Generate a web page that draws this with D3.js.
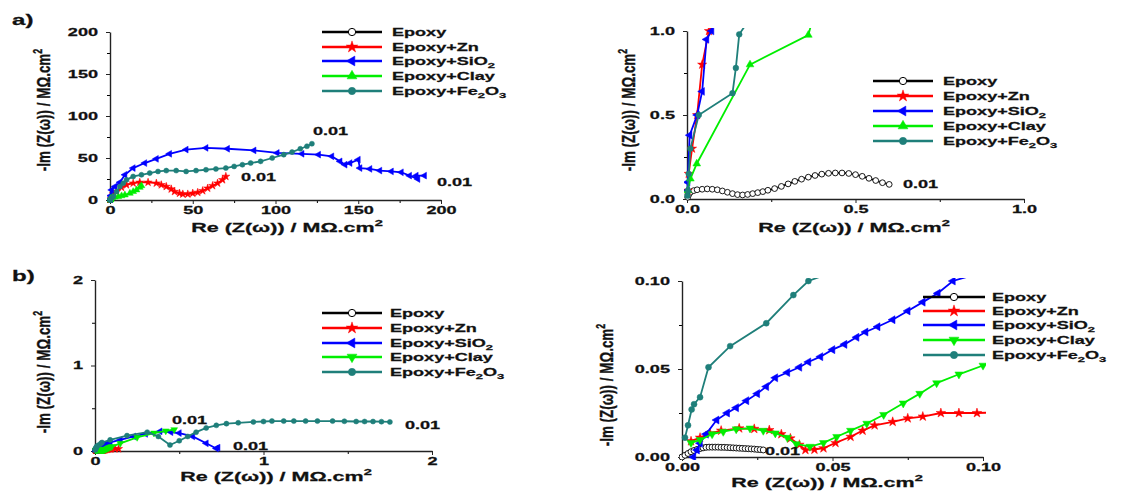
<!DOCTYPE html>
<html>
<head>
<meta charset="utf-8">
<script src="https://cdn.jsdelivr.net/npm/d3@7"></script>
<style>
body { margin: 0; background: #fff; }
text { font-family: "Liberation Sans", Arial, sans-serif; font-weight: bold; fill: #111; stroke: #111; stroke-width: 0.25; }
</style>
</head>
<body>
<svg id="fig" width="1135" height="492"></svg>
<script>
// ---- data: [Re, -Im] in MOhm.cm2 ----
const seriesNames = ["Epoxy", "Epoxy+Zn", "Epoxy+SiO2", "Epoxy+Clay", "Epoxy+Fe2O3"];
const seriesColors = ["#000000", "#ff0000", "#0000ff", "#00ee00", "#1f7f7a"];

// panel a (left = full view, right = zoom near origin)
const epoxyA = [[0.002,0.01],[0.005,0.025],[0.01,0.04],[0.02,0.05],[0.03,0.055],[0.045,0.058],[0.06,0.06],[0.075,0.058],
  [0.09,0.055],[0.105,0.048],[0.12,0.04],[0.135,0.032],[0.15,0.026],[0.165,0.024],[0.18,0.027],[0.195,0.032],[0.21,0.038],
  [0.225,0.044],[0.24,0.052],[0.26,0.062],[0.28,0.075],[0.3,0.09],[0.32,0.105],[0.34,0.118],[0.36,0.13],[0.38,0.14],
  [0.4,0.148],[0.42,0.153],[0.44,0.155],[0.46,0.155],[0.48,0.152],[0.5,0.145],[0.52,0.135],[0.54,0.123],[0.56,0.11],
  [0.58,0.097],[0.6,0.087]];
const znA = [[0.002,0.05],[0.005,0.15],[0.015,0.3],[0.03,0.5],[0.045,0.8],[0.065,1.0],[1,4],[2,7],[4,10],[7,15],[10,18],
  [14,20],[18,21],[23,21],[28,20],[31,18],[34,16],[37,13],[39,10],[42,8],[44,7],[47,7],[50,8],[53,9],[56,11],[59,14],
  [62,17],[65,20],[68,24],[70,28]];
const sio2A = [[0.001,0.05],[0.002,0.1],[0.008,0.38],[0.03,0.5],[0.045,0.64],[0.058,0.95],[0.073,1.0],[0.3,5],[1,12],
  [3,16],[6,21],[9,30],[14,38],[21,44],[28,49],[36,55],[46,60],[58,62],[71,61],[87,59],[101,56],[116,55],[126,54],
  [134,52],[139,46],[142,42],[145,44],[150,48],[151,38],[157,37],[163,35],[170,34],[176,33],[181,29],[186,25],[185,29],[190,29]];
const clayA = [[0.002,0.05],[0.01,0.12],[0.029,0.21],[0.187,0.8],[0.36,0.976],[0.5,2],[1.5,3],[3,3.5],[5,4],[7,5],[9,6],
  [12,8],[14,10],[16,12],[18,15],[19,17]];
const feA = [[0.001,0.02],[0.003,0.05],[0.005,0.15],[0.01,0.3],[0.035,0.5],[0.135,0.63],[0.145,0.78],[0.155,0.98],
  [0.5,2],[2,4],[4,10],[6,16],[8,20],[10,24],[14,28],[19,30],[24,32],[29,34],[34,35],[40,35],[46,34],[52,35],[58,36],
  [64,37],[70,38],[75,40],[80,42],[85,44],[91,46],[98,50],[105,54],[110,57],[115,61],[119,64],[122,67]];

// panel b (left = full view, right = zoom near origin)
const epoxyB = [[0,0],[0.001,0.001],[0.002,0.002],[0.003,0.003],[0.004,0.0037],[0.005,0.0043],[0.006,0.0048],
  [0.007,0.0052],[0.008,0.0055],[0.009,0.0056],[0.010,0.0056],[0.011,0.0056],[0.012,0.0056],[0.013,0.0055],
  [0.014,0.0055],[0.015,0.0054],[0.016,0.0053],[0.017,0.0052],[0.018,0.0051],[0.019,0.005],[0.020,0.0049],
  [0.021,0.0048],[0.022,0.0047],[0.023,0.0046],[0.024,0.0045],[0.025,0.0043],[0.026,0.0042],[0.027,0.004]];
const znB = [[0.003,0.009],[0.006,0.011],[0.0093,0.0135],[0.013,0.015],[0.019,0.0163],[0.024,0.016],[0.029,0.0153],
  [0.033,0.013],[0.036,0.0106],[0.039,0.007],[0.041,0.004],[0.044,0.0042],[0.047,0.005],[0.051,0.008],[0.056,0.0115],
  [0.060,0.015],[0.064,0.018],[0.070,0.020],[0.075,0.022],[0.080,0.023],[0.086,0.025],[0.092,0.025],[0.098,0.025],
  [0.12,0.026],[0.14,0.025]];
const sio2B = [[0.0038,0],[0.005,0.004],[0.006,0.0078],[0.008,0.013],[0.0115,0.021],[0.015,0.025],[0.018,0.028],
  [0.0214,0.032],[0.025,0.036],[0.028,0.04],[0.031,0.045],[0.035,0.048],[0.039,0.051],[0.042,0.054],[0.046,0.057],
  [0.050,0.061],[0.054,0.064],[0.058,0.068],[0.061,0.071],[0.065,0.074],[0.070,0.078],[0.075,0.083],[0.080,0.088],
  [0.085,0.093],[0.090,0.1],[0.15,0.13],[0.23,0.17],[0.3,0.2],[0.386,0.23],[0.45,0.22],[0.5,0.21],[0.58,0.17],
  [0.66,0.09],[0.72,0.03],[0.73,0.04]];
const clayB = [[0.003,0.008],[0.006,0.0097],[0.01,0.013],[0.0137,0.0144],[0.018,0.0158],[0.0226,0.0163],[0.027,0.015],
  [0.031,0.0135],[0.035,0.011],[0.038,0.0074],[0.0425,0.0059],[0.047,0.008],[0.0514,0.0115],[0.056,0.015],
  [0.0614,0.019],[0.067,0.024],[0.0735,0.0305],[0.079,0.036],[0.0846,0.042],[0.092,0.047],[0.1,0.052],[0.15,0.09],
  [0.25,0.16],[0.35,0.21],[0.42,0.235],[0.47,0.25]];
const feB = [[0.001,0.011],[0.002,0.018],[0.0032,0.027],[0.004,0.03],[0.006,0.034],[0.0088,0.051],[0.016,0.063],
  [0.028,0.076],[0.037,0.092],[0.042,0.1],[0.09,0.13],[0.19,0.18],[0.31,0.22],[0.376,0.17],[0.445,0.07],[0.5,0.12],
  [0.55,0.17],[0.6,0.22],[0.66,0.27],[0.72,0.3],[0.78,0.32],[0.85,0.33],[0.94,0.34],[1.0,0.345],[1.05,0.35],[1.12,0.35],
  [1.18,0.35],[1.25,0.35],[1.32,0.35],[1.41,0.35],[1.48,0.348],[1.55,0.345],[1.6,0.345],[1.65,0.345],[1.7,0.343],[1.75,0.34]];

const dataA = [epoxyA, znA, sio2A, clayA, feA];
const dataB = [epoxyB, znB, sio2B, clayB, feB];

// tick values / labels
const ticksAL = {major:[0,50,100,150,200], minor:[25,75,125,175], fmt: d3.format("d")};
const ticksAR = {major:[0,0.5,1], minor:[0.25,0.75], fmt: d3.format(".1f")};
const ticksBL = {major:[0,1,2], minor:[0.5,1.5], fmt: d3.format("d")};
const ticksBR = {major:[0,0.05,0.1], minor:[0.025,0.075], fmt: d3.format(".2f")};

const SX = 1.72;   // the figure is stretched sideways
const svg = d3.select("#fig");

function stext(g, x, y, opts) {
    const t = g.append("text")
        .attr("transform", `translate(${x},${y}) scale(${SX},1)`)
        .attr("font-size", opts.size || 10.5)
        .attr("text-anchor", opts.anchor || "start");
    addParts(t, opts.parts);
    return t;
}

function addParts(t, parts) {
    parts.forEach(p => {
        if (typeof p === "string") t.append("tspan").text(p);
        else t.append("tspan").attr("dy", p.dy).attr("font-size", p.size).text(p.t);
    });
}

function labelParts(name) {
    if (name === "Epoxy+SiO2") return ["Epoxy+SiO", {t:"2", dy:3, size:7.5}];
    if (name === "Epoxy+Fe2O3") return ["Epoxy+Fe", {t:"2", dy:3, size:7.5}, {t:"O", dy:-3, size:10.5}, {t:"3", dy:3, size:7.5}];
    return [name];
}

const titleParts = (pre) => [pre + " (Z(ω)) / MΩ.cm", {t:"2", dy:-6, size:8.5}];

function symbolFor(i, clayDown) {
    if (i === 0) return {type: d3.symbolCircle, rot: 0};
    if (i === 1) return {type: d3.symbolStar, rot: 0};
    if (i === 2) return {type: d3.symbolTriangle, rot: -90};
    if (i === 3) return {type: d3.symbolTriangle, rot: clayDown ? 180 : 0};
    return {type: d3.symbolCircle, rot: 0};
}

function Panel(cfg, idx) {
    const g = svg.append("g");
    const x = d3.scaleLinear().domain([0, cfg.ticks.major[cfg.ticks.major.length-1]]).range(cfg.xr);
    const y = d3.scaleLinear().domain([0, cfg.ticks.major[cfg.ticks.major.length-1]]).range(cfg.yr);

    const clipId = "clip" + idx;
    g.append("clipPath").attr("id", clipId)
      .append("rect")
        .attr("x", cfg.xr[0] - 3).attr("y", cfg.yr[1] - 3)
        .attr("width", cfg.xr[1] - cfg.xr[0] + 6)
        .attr("height", cfg.yr[0] - cfg.yr[1] + 6);

    // axes
    const axes = [
        [d3.axisBottom(x), `translate(0,${cfg.yr[0]})`],
        [d3.axisLeft(y), `translate(${cfg.xr[0]},0)`]
    ];
    axes.forEach(([ax, tr]) => {
        g.append("g").attr("transform", tr)
            .call(ax.tickValues(cfg.ticks.minor).tickSize(3).tickSizeOuter(0).tickFormat(""))
            .call(a => a.select(".domain").remove());
        const ga = g.append("g").attr("transform", tr)
            .call(ax.tickValues(cfg.ticks.major).tickSize(4).tickSizeOuter(0).tickFormat(cfg.ticks.fmt).tickPadding(3));
        ga.selectAll("text").attr("transform", `scale(${SX},1)`).style("font-size", "10.5px");
        ga.select(".domain").attr("stroke", "#222").attr("stroke-width", 1.4);
        ga.selectAll(".tick line").attr("stroke", "#222");
    });

    // series
    const plot = g.append("g").attr("clip-path", `url(#${clipId})`);
    const line = d3.line().x(d => x(d[0])).y(d => y(d[1]));
    cfg.data.forEach((s, i) => {
        const col = seriesColors[i];
        plot.append("path").datum(s)
            .attr("d", line)
            .attr("fill", "none")
            .attr("stroke", col)
            .attr("stroke-width", 1.8);
        const sym = symbolFor(i, cfg.clayDown);
        plot.selectAll(null).data(s).join("path")
            .attr("d", d3.symbol(sym.type, cfg.msize))
            .attr("transform", d => `translate(${x(d[0])},${y(d[1])}) rotate(${sym.rot})`)
            .attr("fill", i === 0 ? "#fff" : col)
            .attr("stroke", col)
            .attr("stroke-width", i === 0 ? 0.9 : 0.5);
    });

    // legend
    seriesNames.forEach((name, i) => {
        const ly = cfg.legend.ys[i];
        const col = seriesColors[i];
        g.append("line")
            .attr("x1", cfg.legend.x0).attr("x2", cfg.legend.x1)
            .attr("y1", ly).attr("y2", ly)
            .attr("stroke", col).attr("stroke-width", 2.4);
        const sym = symbolFor(i, cfg.clayDown);
        g.append("path")
            .attr("d", d3.symbol(sym.type, 42))
            .attr("transform", `translate(${(cfg.legend.x0 + cfg.legend.x1) / 2},${ly}) rotate(${sym.rot})`)
            .attr("fill", i === 0 ? "#fff" : col)
            .attr("stroke", col).attr("stroke-width", i === 0 ? 1 : 0.5);
        stext(g, cfg.legend.tx, ly + 4, {parts: labelParts(name)});
    });

    // frequency labels
    cfg.notes.forEach(p => stext(g, p[0], p[1], {parts: ["0.01"]}));

    // axis titles
    stext(g, cfg.xTitle[0], cfg.xTitle[1], {parts: titleParts("Re"), anchor: "middle", size: 12.5});
    const yt = g.append("text")
        .attr("transform", `translate(${cfg.yTitle[0]},${cfg.yTitle[1]}) rotate(-90) scale(1.12,1.6)`)
        .attr("font-size", 12)
        .attr("text-anchor", "middle");
    addParts(yt, ["-Im (Z(ω)) / MΩ.cm", {t:"2", dy:-5, size:8}]);
}

Panel({xr:[110,441], yr:[200,32], ticks:ticksAL, data:dataA, msize:20, clayDown:false,
       legend:{x0:322, x1:382, tx:392, ys:[32,47,61,76,91]},
       notes:[[313,135],[241,181],[437,186]], xTitle:[287,232], yTitle:[50,110]}, 0);
Panel({xr:[687,1024], yr:[199,31], ticks:ticksAR, data:dataA, msize:26, clayDown:false,
       legend:{x0:873, x1:933, tx:943, ys:[81,96,111,126,141]},
       notes:[[903,188]], xTitle:[854,232], yTitle:[635,110]}, 1);
Panel({xr:[95,432], yr:[451,280], ticks:ticksBL, data:dataB, msize:20, clayDown:true,
       legend:{x0:322, x1:382, tx:390, ys:[313,328,343,357,372]},
       notes:[[172,424],[233,450],[405,429]], xTitle:[276,481], yTitle:[50,372]}, 2);
Panel({xr:[682,983], yr:[457,281], ticks:ticksBR, data:dataB, msize:28, clayDown:true,
       legend:{x0:923, x1:985, tx:992, ys:[297,311,325,340,355]},
       notes:[[765,455]], xTitle:[827,487], yTitle:[613,385]}, 3);

stext(svg, 12, 25, {parts:["a)"], size:14});
stext(svg, 12, 281, {parts:["b)"], size:14});
</script>
</body>
</html>
